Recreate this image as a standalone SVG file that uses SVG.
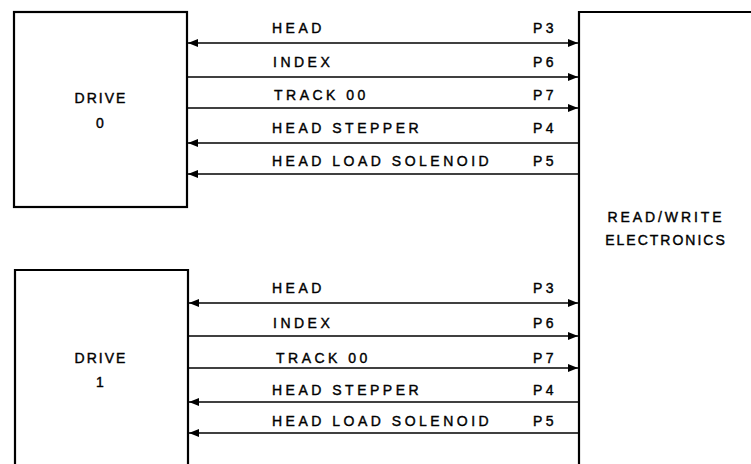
<svg xmlns="http://www.w3.org/2000/svg" width="751" height="464" viewBox="0 0 751 464">
<style>
.box{fill:none;stroke:#000;stroke-width:2.2}
.ln{fill:none;stroke:#000;stroke-width:1.5}
.t{font-family:"Liberation Sans",Arial,sans-serif;font-size:14px;letter-spacing:3.5px;fill:#000;stroke:#000;stroke-width:0.4}
.n{font-family:"Liberation Sans",Arial,sans-serif;font-size:14px;letter-spacing:2px;fill:#000;stroke:#000;stroke-width:0.4;text-anchor:middle}
</style>
<defs>
<marker id="ah" viewBox="0 0 10 8" refX="10" refY="4" markerWidth="10" markerHeight="8" markerUnits="userSpaceOnUse" orient="auto-start-reverse">
<path d="M0,0 L10,4 L0,8 Z" fill="#000"/>
</marker>
</defs>
<g id="drive0">
<rect class="box" x="14" y="12" width="173" height="195"/>
<text class="n" x="101" y="103">DRIVE</text>
<text class="n" x="101" y="128">0</text>
</g>
<g id="drive1">
<path class="box" d="M15,464 V270 H188 V464"/>
<text class="n" x="101" y="363">DRIVE</text>
<text class="n" x="101" y="387">1</text>
</g>
<g id="rw">
<path class="box" d="M751,12 H579 V464"/>
<text class="n" x="666" y="222" style="letter-spacing:2.9px">READ/WRITE</text>
<text class="n" x="666" y="245">ELECTRONICS</text>
</g>
<g id="connectors">
<line class="ln" x1="188" y1="43" x2="578" y2="43" marker-start="url(#ah)" marker-end="url(#ah)"/>
<line class="ln" x1="188" y1="77" x2="578" y2="77" marker-end="url(#ah)"/>
<line class="ln" x1="188" y1="108" x2="578" y2="108" marker-end="url(#ah)"/>
<line class="ln" x1="578" y1="143" x2="188" y2="143" marker-end="url(#ah)"/>
<line class="ln" x1="578" y1="174" x2="188" y2="174" marker-end="url(#ah)"/>
<line class="ln" x1="189" y1="303" x2="578" y2="303" marker-start="url(#ah)" marker-end="url(#ah)"/>
<line class="ln" x1="189" y1="336" x2="578" y2="336" marker-end="url(#ah)"/>
<line class="ln" x1="189" y1="368" x2="578" y2="368" marker-end="url(#ah)"/>
<line class="ln" x1="578" y1="402" x2="189" y2="402" marker-end="url(#ah)"/>
<line class="ln" x1="578" y1="433" x2="189" y2="433" marker-end="url(#ah)"/>
</g>
<g id="labels0">
<text class="t" x="272" y="33">HEAD</text>
<text class="t" x="273" y="67">INDEX</text>
<text class="t" x="274" y="100">TRACK 00</text>
<text class="t" x="272" y="133">HEAD STEPPER</text>
<text class="t" x="272" y="166">HEAD LOAD SOLENOID</text>
<text class="t" x="533" y="33">P3</text>
<text class="t" x="533" y="67">P6</text>
<text class="t" x="533" y="100">P7</text>
<text class="t" x="533" y="133">P4</text>
<text class="t" x="533" y="166">P5</text>
</g>
<g id="labels1">
<text class="t" x="272" y="293">HEAD</text>
<text class="t" x="273" y="328">INDEX</text>
<text class="t" x="276" y="363">TRACK 00</text>
<text class="t" x="272" y="395">HEAD STEPPER</text>
<text class="t" x="272" y="426">HEAD LOAD SOLENOID</text>
<text class="t" x="533" y="293">P3</text>
<text class="t" x="533" y="328">P6</text>
<text class="t" x="533" y="363">P7</text>
<text class="t" x="533" y="395">P4</text>
<text class="t" x="533" y="426">P5</text>
</g>
</svg>
